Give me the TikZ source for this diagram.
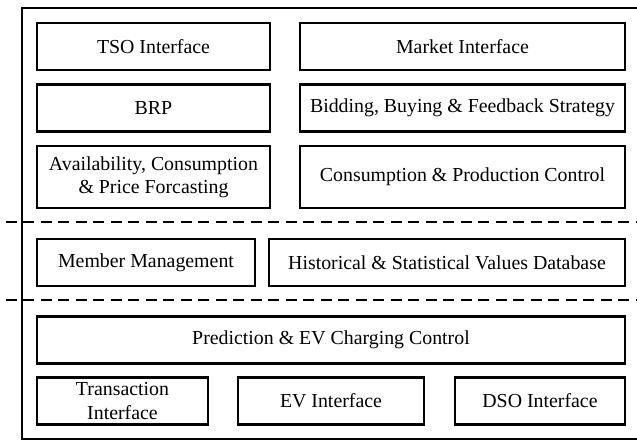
\documentclass[tikz,border=0pt]{standalone}
\usepackage{fontspec}
\setmainfont{Liberation Serif}
\usepackage{tikz}
\usetikzlibrary{positioning}

\begin{document}
\begin{tikzpicture}
[
	              x = 0.02cm,
	              y = -0.02cm,
	      font = \fontsize{11.3}{13.3}\selectfont,
	   block/.style = { draw=black, rectangle, line width=1.2pt, align=center, inner sep=2pt },
	 rowtall/.style = { minimum height=0.94cm },
	 rowhigh/.style = { minimum height=1.24cm },
	separator/.style = { line width=1.3pt, dash pattern=on 0.22cm off 0.13cm }
]
	\useasboundingbox (0,0) rectangle (637,442);

	% frame
	\draw [line width=1.3pt] (645,8) -| (22,439) -- (645,439);

	% upper layer
	% nodes
	\node (TSO)  at (153.5,46.5) [block, rowtall, minimum width=4.66cm] {TSO Interface};
	\node (MKT)  at (462.5,46.5) [block, rowtall, minimum width=6.5cm]  {Market Interface};
	\node (BRP)  at (153.5,108)  [block, rowtall, minimum width=4.66cm] {BRP};
	\node (BID)  at (462.5,108)  [block, rowtall, minimum width=6.5cm]  {Bidding, Buying \& Feedback Strategy};
	\node (FC)   at (153.5,177)  [block, rowhigh, minimum width=4.66cm] {Availability, Consumption\\\& Price Forcasting};
	\node (CPC)  at (462.5,177)  [block, rowhigh, minimum width=6.5cm]  {Consumption \& Production Control};

	% separators
	\draw [separator] (6,222) -- (645,222);
	\draw [separator] (6,300) -- (645,300);

	% middle layer
	% nodes
	\node (MM)   at (146,262.5)  [block, rowtall, minimum width=4.36cm] {Member Management};
	\node (DB)   at (447,262.5)  [block, rowtall, minimum width=7.12cm] {Historical \& Statistical Values Database};

	% lower layer
	% nodes
	\node (PEV)  at (331,340)    [block, rowtall, minimum width=11.76cm] {Prediction \& EV Charging Control};
	\node (TRI)  at (122.5,401)  [block, rowtall, minimum width=3.42cm] {Transaction\\Interface};
	\node (EVI)  at (331,401)    [block, rowtall, minimum width=3.72cm] {EV Interface};
	\node (DSO)  at (540,401)    [block, rowtall, minimum width=3.4cm]  {DSO Interface};
\end{tikzpicture}
\end{document}
